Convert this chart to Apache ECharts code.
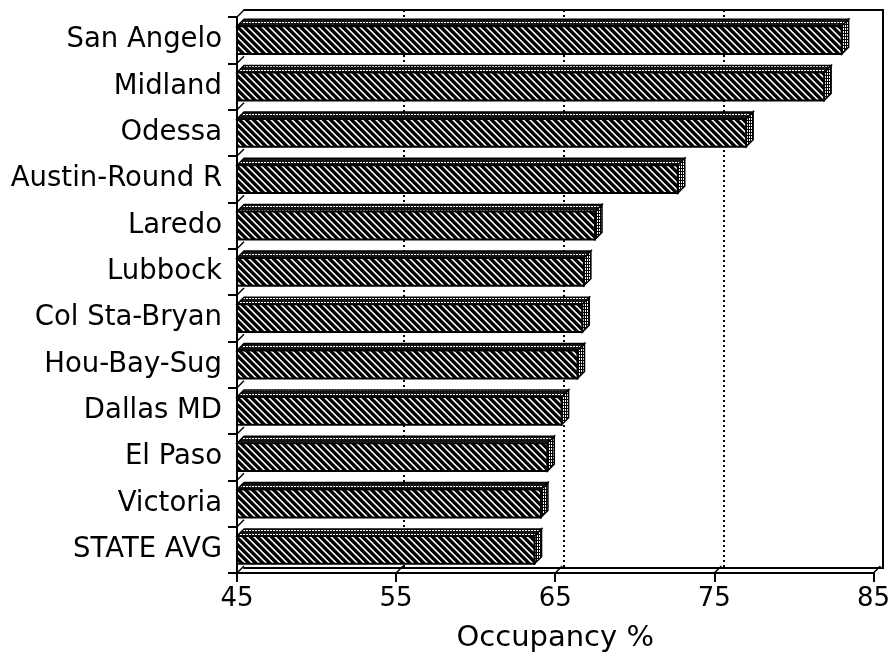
<!DOCTYPE html>
<html>
<head>
<meta charset="utf-8">
<script src="https://cdn.jsdelivr.net/npm/echarts@6/dist/echarts.min.js"></script>
<style>
  html, body { margin: 0; padding: 0; background: #fff; }
  #chart { width: 893px; height: 658px; }
</style>
</head>
<body>
<div id="chart"></div>
<script>
  // data
  const cities = ['San Angelo', 'Midland', 'Odessa', 'Austin-Round R', 'Laredo', 'Lubbock',
    'Col Sta-Bryan', 'Hou-Bay-Sug', 'Dallas MD', 'El Paso', 'Victoria', 'STATE AVG']
  const occupancy = [83.0, 81.9, 77.0, 72.7, 67.5, 66.8, 66.7, 66.4, 65.4, 64.5, 64.1, 63.7]
  const xTicks = [45, 55, 65, 75, 85]

  const DEPTH = 7
  const FONT = 'DejaVu Sans'

  // little bitmap patterns like the old printer hatching
  function makePattern(w, h, fn) {
    const c = document.createElement('canvas')
    c.width = w; c.height = h
    const ctx = c.getContext('2d')
    const img = ctx.createImageData(w, h)
    for (let y = 0; y < h; y++) {
      for (let x = 0; x < w; x++) {
        const v = fn(x, y)
        const i = (y * w + x) * 4
        img.data[i] = img.data[i + 1] = img.data[i + 2] = v
        img.data[i + 3] = 255
      }
    }
    ctx.putImageData(img, 0, 0)
    return c
  }
  // front face: "\" diagonals, black band + grey + white line
  const hatchVals = [0, 0, 0, 110, 255, 200, 0]
  const hatch = makePattern(7, 7, (x, y) => hatchVals[((x - y) % 7 + 7) % 7])
  // top face: dark with white dashes
  const topPat = makePattern(3, 4, (x, y) => (y === 2 && x < 2) ? 255 : 20)
  // side face: fine vertical stripes
  const sidePat = makePattern(2, 3, (x, y) => (x === 0 || y === 0) ? 0 : 255)

  function renderBar(params, api) {
    const idx = api.value(0)
    const val = api.value(1)
    const start = api.coord([45, idx])
    const end = api.coord([val, idx])
    const band = api.size([0, 1])[1]
    const h = band * 0.6
    const x0 = start[0], x1 = end[0]
    const yt = end[1] - h / 2, yb = end[1] + h / 2
    const d = DEPTH
    const bandTop = end[1] - band / 2
    return {
      type: 'group',
      children: [
        {
          // connector from the axis tick to the back wall
          type: 'line',
          shape: { x1: x0, y1: bandTop, x2: x0 + d, y2: bandTop - d },
          style: { stroke: '#000', lineWidth: 1.5 }
        },
        {
          type: 'polygon',
          shape: { points: [[x0, yt], [x0 + d, yt - d], [x1 + d, yt - d], [x1, yt]] },
          style: { fill: { image: topPat, repeat: 'repeat' }, stroke: '#000', lineWidth: 1.5 }
        },
        {
          type: 'polygon',
          shape: { points: [[x1, yt], [x1 + d, yt - d], [x1 + d, yb - d], [x1, yb]] },
          style: { fill: { image: sidePat, repeat: 'repeat' }, stroke: '#000', lineWidth: 1.5 }
        },
        {
          type: 'rect',
          shape: { x: x0, y: yt, width: x1 - x0, height: yb - yt },
          style: { fill: { image: hatch, repeat: 'repeat' }, stroke: '#000', lineWidth: 2 }
        }
      ]
    }
  }

  function renderConnector(params, api) {
    const p = api.coord([api.value(0), 0])
    const yAxisLine = params.coordSys.y + params.coordSys.height
    return {
      type: 'line',
      shape: { x1: p[0], y1: yAxisLine, x2: p[0] + DEPTH, y2: yAxisLine - DEPTH },
      style: { stroke: '#000', lineWidth: 1.5 }
    }
  }

  const chart = echarts.init(document.getElementById('chart'))
  const black = { color: '#000', width: 2 }

  const option = {
    backgroundColor: '#fff',
    animation: false,
    grid: [
      // back wall
      { left: 237 + DEPTH, right: 17 - DEPTH, top: 17 - DEPTH, bottom: 83 + DEPTH },
      // front plane
      { left: 237, right: 17, top: 17, bottom: 83 }
    ],
    xAxis: [
      {
        gridIndex: 0, type: 'value', position: 'bottom', min: 45, max: 85, interval: 10,
        axisLine: { show: true, lineStyle: black }, axisTick: { show: false }, axisLabel: { show: false },
        splitLine: { show: true, showMinLine: false, showMaxLine: false,
          lineStyle: { color: '#000', width: 2, type: [2, 3] } }
      },
      {
        gridIndex: 0, type: 'value', position: 'top', min: 45, max: 85,
        axisLine: { show: true, lineStyle: black }, axisTick: { show: false }, axisLabel: { show: false },
        splitLine: { show: false }
      },
      {
        gridIndex: 1, type: 'value', position: 'bottom', min: 45, max: 85, interval: 10,
        axisLine: { show: true, lineStyle: black },
        axisTick: { show: true, length: 9, lineStyle: black },
        axisLabel: { color: '#000', fontFamily: FONT, fontSize: 26, margin: 13,
          formatter: v => xTicks.includes(v) ? String(v) : '' },
        splitLine: { show: false },
        name: 'Occupancy %', nameLocation: 'middle', nameGap: 51,
        nameTextStyle: { color: '#000', fontFamily: FONT, fontSize: 29 }
      }
    ],
    yAxis: [
      {
        gridIndex: 0, type: 'value', position: 'right', min: 0, max: 1,
        axisLine: { show: true, lineStyle: black }, axisTick: { show: false }, axisLabel: { show: false },
        splitLine: { show: false }
      },
      {
        gridIndex: 1, type: 'category', data: cities, inverse: true, position: 'left',
        axisLine: { show: true, lineStyle: black },
        axisTick: { show: true, length: 9, lineStyle: black },
        axisLabel: { color: '#000', fontFamily: FONT, fontSize: 27.5, margin: 15 },
        splitLine: { show: false }
      }
    ],
    series: [
      {
        type: 'custom',
        xAxisIndex: 2,
        yAxisIndex: 1,
        renderItem: renderConnector,
        encode: { x: 0 },
        data: xTicks.map(v => [v])
      },
      {
        type: 'custom',
        xAxisIndex: 2,
        yAxisIndex: 1,
        renderItem: renderBar,
        encode: { x: 1, y: 0 },
        data: occupancy.map((v, i) => [i, v])
      }
    ]
  }
  chart.setOption(option)
</script>
</body>
</html>
